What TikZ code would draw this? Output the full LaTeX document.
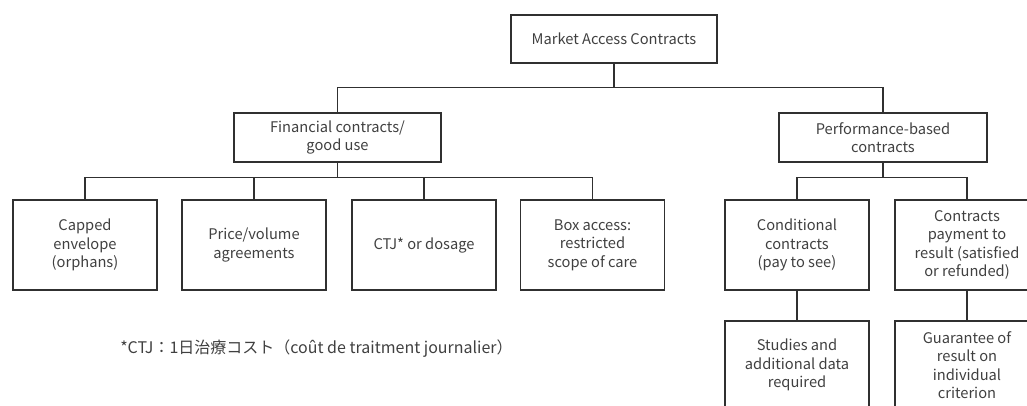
\documentclass[tikz,border=0pt]{standalone}
\usepackage{fontspec}
\setmainfont{Noto Sans CJK JP}
\definecolor{linegray}{HTML}{303030}
\definecolor{textgray}{HTML}{404040}

\begin{document}
\begin{tikzpicture}[x=0.75pt,y=-0.75pt,
    box/.style={draw=linegray,line width=1pt,align=center,text=textgray,
      minimum width=144*0.75pt,minimum height=90*0.75pt,inner sep=0pt,
      font=\fontsize{11pt}{13.9pt}\selectfont},
    wide/.style={box,minimum width=207*0.75pt,minimum height=49*0.75pt},
    link/.style={draw=linegray,line width=1pt}]
  \useasboundingbox (0,0) rectangle (1027,405);
  \clip (0,0) rectangle (1027,405);

  \node[wide,minimum width=206*0.75pt,minimum height=48*0.75pt] (mac) at (614,39) {Market Access Contracts};
  \node[wide] (fin) at (337.5,137.5) {Financial contracts/\\good use};
  \node[wide,minimum width=208*0.75pt] (perf) at (883,137.5) {Performance-based\\contracts};

  \draw[link] (mac.south) -- ++(0,24) -| (fin.north);
  \draw[link] (mac.south) -- ++(0,24) -| (perf.north);

  \foreach \n/\x/\txt in {capped/85/{Capped\\envelope\\(orphans)},
      price/254/{Price/volume\\agreements},
      ctj/424/{CTJ* or dosage},
      access/592.5/{Box access:\\restricted\\scope of care}}
  {
    \node[box] (\n) at (\x,245) {\txt};
    \draw[link] (fin.south) -- ++(0,15) -| (\n.north);
  }

  \node[box] (cond) at (797,245) {Conditional\\contracts\\(pay to see)};
  \node[box] (pay) at (967,245) {Contracts\\payment to\\result (satisfied\\or refunded)};
  \draw[link] (perf.south) -- ++(0,15) -| (cond.north);
  \draw[link] (perf.south) -- ++(0,15) -| (pay.north);

  \node[box,minimum height=88*0.75pt] (studies) at (797,365) {Studies and\\additional data\\required};
  \node[box,minimum height=88*0.75pt] (guar) at (967,365) {Guarantee of\\result on\\individual\\criterion};
  \draw[link] (cond) -- (studies);
  \draw[link] (pay) -- (guar);

  % footnote
  \node[anchor=west,inner sep=0pt,text=textgray,font=\fontsize{12pt}{14pt}\selectfont] (note) at (120,349)
    {*CTJ：1日治療コスト（coût de traitment journalier）};
\end{tikzpicture}
\end{document}
